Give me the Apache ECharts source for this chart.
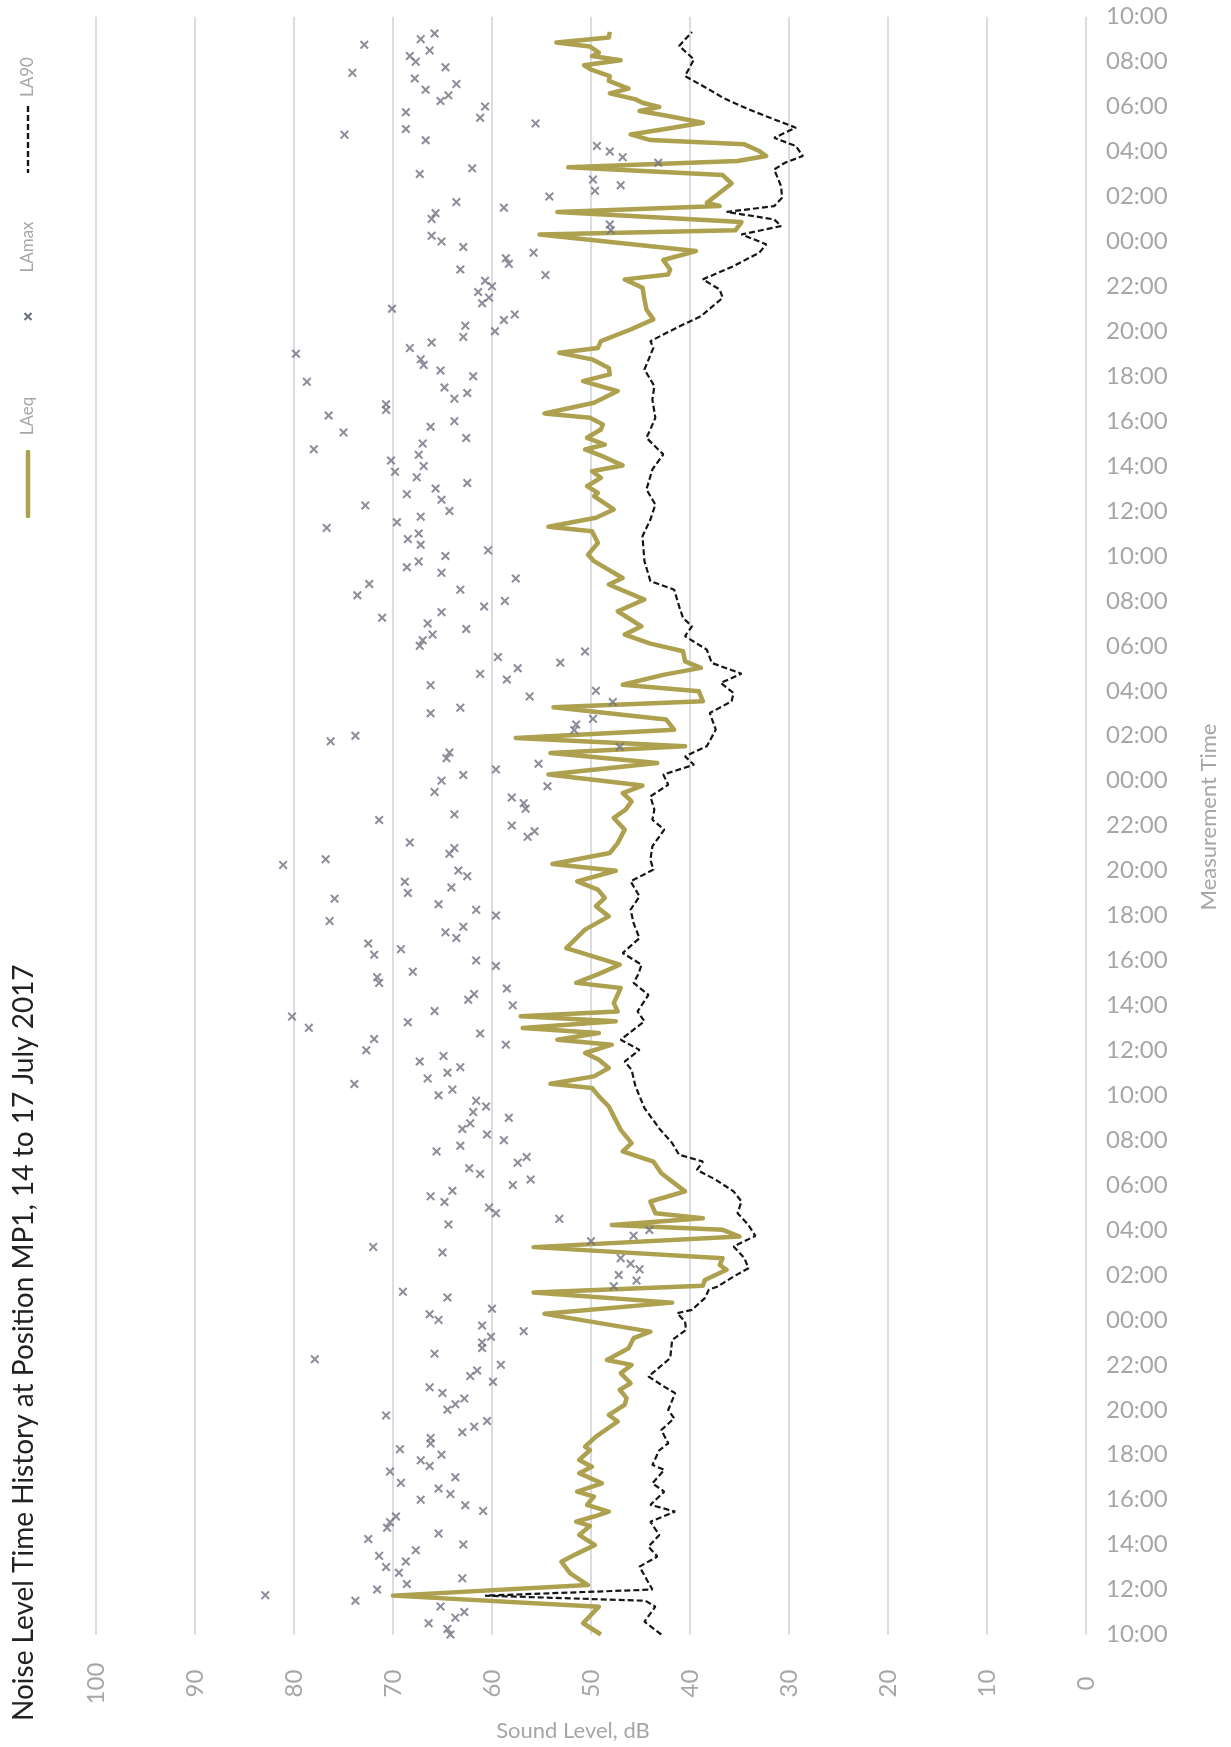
<!DOCTYPE html>
<html>
<head>
<meta charset="utf-8">
<title>Noise Level Time History at Position MP1</title>
<script src="https://cdn.jsdelivr.net/npm/echarts@6/dist/echarts.min.js"></script>
<style>
  html, body { margin: 0; padding: 0; background: #ffffff; }
  #chart { width: 1231px; height: 1747px; }
</style>
</head>
<body>
<div id="chart"></div>
<script>
// Hours elapsed since 14 July 10:00; the time axis runs 0..72 h.
const timeLabels = [
  '10:00','12:00','14:00','16:00','18:00','20:00','22:00','00:00','02:00','04:00','06:00','08:00',
  '10:00','12:00','14:00','16:00','18:00','20:00','22:00','00:00','02:00','04:00','06:00','08:00',
  '10:00','12:00','14:00','16:00','18:00','20:00','22:00','00:00','02:00','04:00','06:00','08:00',
  '10:00'
];

// LAmax, one value per 15-minute interval (null = no reading)
const lamax = [
  64.2,64.5,66.4,63.7,62.8,65.2,73.8,82.9,71.6,68.6,63.0,69.4,70.7,68.7,71.4,67.7,
  62.9,72.5,65.4,70.6,70.3,69.7,60.9,62.7,67.2,64.2,65.4,69.2,63.7,70.3,66.3,67.2,
  65.1,69.3,66.2,66.2,63.0,61.8,60.5,70.7,64.5,63.7,62.8,65.0,66.3,59.9,62.2,61.5,
  59.1,77.9,65.8,61.0,61.0,60.1,56.8,61.0,65.4,66.3,60.0,null,64.5,69.0,47.7,45.4,
  47.2,45.1,46.0,47.0,65.0,72.0,50.0,45.7,44.1,64.4,53.2,59.6,60.3,64.8,66.2,64.0,
  57.9,56.1,61.2,62.3,57.4,56.5,65.6,63.2,58.8,60.5,63.0,62.2,58.3,61.9,60.6,61.6,
  65.4,64.0,73.9,66.5,64.5,63.2,67.3,64.9,72.7,58.6,71.9,61.2,78.5,68.5,80.2,65.8,
  57.9,62.4,61.8,58.5,71.4,71.6,68.0,59.6,61.6,71.9,69.2,72.5,63.6,64.7,62.9,76.4,
  59.6,61.6,65.4,75.9,68.5,64.1,68.8,62.5,63.4,81.1,76.8,64.3,63.8,68.3,56.4,55.7,
  58.0,71.4,63.8,56.6,56.8,58.0,65.8,54.4,65.1,62.9,59.6,55.3,64.6,64.3,47.1,76.3,
  73.8,51.7,51.5,49.8,66.2,63.2,47.8,56.2,49.5,66.2,58.5,61.2,57.4,53.1,59.4,50.6,
  67.3,67.0,66.0,62.6,66.5,71.1,65.1,60.8,58.7,73.6,63.2,72.4,57.6,65.1,68.6,67.4,
  64.7,60.4,67.2,68.5,67.4,76.7,69.6,67.2,64.3,72.8,65.1,68.6,65.7,62.5,67.6,69.8,
  66.9,70.2,67.4,78.0,67.0,62.6,75.0,66.2,63.8,76.5,70.7,70.7,63.8,62.5,64.8,78.7,
  61.9,65.2,66.9,67.2,79.8,68.3,66.1,62.9,59.7,62.7,58.8,57.7,70.1,61.0,60.3,61.4,
  60.0,60.7,54.6,63.2,58.3,58.6,55.8,62.9,65.1,66.1,48.0,48.1,66.1,65.7,58.8,63.6,
  54.2,49.6,47.0,49.8,67.3,62.0,43.2,46.8,48.1,49.4,66.7,74.9,68.7,55.6,61.2,68.7,
  60.7,65.2,64.4,66.7,63.6,67.8,74.1,64.7,67.7,68.3,66.3,72.9,67.2,65.8
];

// LAeq trace: [hours, dB]
const laeq = [
  [0,49.0],[0.5,50.8],[1.24,49.2],[1.73,70.0],[2.2,50.3],[2.72,52.1],[3.24,53.0],[3.6,51.4],
  [3.98,49.6],[4.43,51.2],[4.83,50.1],[5.02,51.5],[5.25,49.7],[5.47,48.2],[5.77,50.4],[6.14,49.7],
  [6.36,51.4],[6.73,48.9],[7.18,51.2],[7.47,49.9],[7.77,51.2],[8.2,50.1],[8.36,50.6],[8.81,49.5],
  [9.48,47.3],[9.77,48.2],[10.22,46.6],[10.52,46.4],[10.89,47.1],[11.18,46.0],[11.63,47.0],[12.0,45.9],
  [12.22,48.4],[12.74,46.2],[13.19,45.7],[13.48,44.0],[14.27,54.7],[14.77,41.8],[15.22,55.8],[15.52,38.7],
  [15.78,38.5],[16.23,36.3],[16.45,37.0],[16.75,36.7],[17.24,55.8],[17.71,35.0],[18.01,36.7],[18.23,47.9],
  [18.53,38.7],[18.75,43.5],[19.27,44.0],[19.72,40.5],[20.53,42.9],[21.05,43.7],[21.5,46.8],[21.87,45.9],
  [22.46,47.0],[23.06,47.7],[23.5,48.2],[23.95,49.2],[24.32,49.9],[24.51,54.1],[24.84,49.7],[25.21,48.2],
  [25.58,49.2],[25.88,50.6],[26.25,47.9],[26.47,53.4],[26.77,49.2],[26.99,56.9],[27.29,47.5],[27.51,57.1],
  [27.73,47.3],[28.1,47.7],[28.77,47.0],[29.0,51.5],[29.4,49.2],[29.81,47.1],[30.55,52.5],[31.37,50.6],
  [31.96,48.2],[32.41,49.5],[32.78,48.6],[33.15,49.3],[33.52,51.4],[33.99,47.5],[34.29,53.9],[34.78,48.1],
  [35.22,47.3],[35.82,46.6],[36.34,47.7],[36.71,46.5],[37.08,45.9],[37.45,46.8],[37.78,44.8],[38.27,54.3],
  [38.79,43.3],[39.23,54.1],[39.53,40.5],[39.9,57.6],[40.27,41.6],[40.72,42.4],[41.27,53.8],[41.53,38.7],
  [41.98,39.1],[42.27,46.8],[42.72,42.6],[43.02,38.9],[43.31,40.5],[43.76,40.7],[44.1,44.0],[44.5,46.6],
  [44.87,44.9],[45.54,47.3],[46.06,44.6],[46.73,48.2],[47.02,46.8],[47.77,49.7],[48.06,50.3],[48.58,49.3],
  [49.1,49.9],[49.3,54.3],[49.7,49.5],[50.07,47.7],[50.66,49.7],[50.81,49.3],[51.11,50.4],[51.48,49.0],
  [51.77,49.9],[52.03,46.8],[52.47,49.0],[52.74,50.6],[52.96,48.6],[53.26,50.4],[53.63,49.0],[53.85,48.8],
  [54.15,50.1],[54.34,54.7],[54.82,49.7],[55.34,47.3],[55.78,50.8],[56.08,48.1],[56.37,48.2],[56.75,49.9],
  [57.04,53.2],[57.26,49.3],[57.56,49.0],[58.08,46.0],[58.53,43.7],[58.97,44.4],[59.42,44.6],[59.94,44.8],
  [60.31,46.6],[60.53,42.2],[60.75,42.0],[61.17,42.7],[61.57,39.4],[62.31,55.2],[62.5,35.4],[62.86,34.8],
  [63.31,53.4],[63.57,37.0],[63.72,38.3],[64.58,35.8],[64.95,36.7],[65.3,52.3],[65.58,35.2],[65.8,32.3],
  [66.02,33.0],[66.32,34.5],[66.51,44.0],[66.76,46.0],[67.02,42.2],[67.28,38.7],[67.58,42.2],[67.8,45.1],
  [67.98,43.1],[68.17,44.8],[68.32,45.5],[68.59,48.1],[68.8,46.2],[69.14,48.2],[69.36,48.1],[69.63,49.9],
  [69.84,50.7],[70.06,47.0],[70.25,49.9],[70.4,49.2],[70.67,50.1],[70.85,53.5],[71.07,48.2],[71.32,48.1]
];

// LA90 trace: [hours, dB]
const la90 = [
  [0,42.9],[0.57,44.6],[1.24,43.5],[1.5,44.5],[1.73,60.7],[2.0,43.8],[3.02,45.1],[3.47,43.3],
  [3.91,44.2],[4.43,43.1],[5.02,44.0],[5.47,41.5],[5.77,44.0],[6.36,42.6],[6.73,43.8],[7.33,42.6],
  [7.55,43.8],[8.2,43.1],[8.51,42.2],[9.1,42.9],[9.62,41.6],[9.99,42.2],[10.74,41.5],[11.03,42.6],
  [11.48,44.2],[12.3,42.0],[13.11,41.8],[13.56,40.4],[13.93,40.5],[14.3,41.3],[14.45,39.8],[14.97,38.5],
  [15.34,38.1],[15.49,37.2],[15.93,35.6],[16.3,34.1],[16.75,34.5],[17.27,35.6],[17.74,33.4],[18.23,34.1],
  [18.75,35.2],[19.27,34.8],[19.72,35.6],[20.24,37.4],[20.68,39.3],[21.05,38.7],[21.35,41.1],[21.87,41.8],
  [22.46,43.0],[23.43,44.6],[24.39,45.5],[25.13,45.9],[25.5,46.6],[26.02,45.1],[26.47,47.0],[27.29,44.6],
  [27.73,45.3],[28.47,44.2],[29.0,45.7],[29.4,45.2],[29.81,44.9],[30.33,46.8],[30.99,45.1],[31.66,45.7],
  [32.26,46.0],[32.85,45.1],[33.52,46.0],[34.04,43.7],[34.48,44.0],[35.08,43.8],[35.82,42.6],[36.26,43.8],
  [36.71,43.6],[37.3,44.0],[37.82,42.2],[38.27,42.7],[38.71,39.6],[39.08,40.5],[39.53,38.3],[40.27,37.4],
  [41.01,38.0],[41.53,35.8],[41.9,35.6],[42.35,36.9],[42.76,34.8],[43.24,37.8],[43.83,38.3],[44.43,40.5],
  [44.87,39.8],[45.24,40.7],[45.76,41.1],[46.5,41.6],[46.88,44.0],[47.77,44.6],[48.88,44.8],[49.62,44.0],
  [50.29,43.5],[50.96,44.4],[51.85,43.8],[52.52,42.7],[53.26,44.4],[53.63,44.0],[54.15,43.5],[54.96,43.8],
  [55.56,43.6],[56.3,44.6],[57.26,43.7],[57.56,44.0],[57.9,42.5],[58.23,41.0],[58.67,38.9],[59.49,36.7],
  [59.86,37.0],[60.31,38.7],[60.9,35.6],[61.5,33.0],[61.87,32.3],[62.31,34.8],[62.68,30.8],[62.98,31.5],
  [63.31,36.3],[63.57,31.5],[63.94,30.7],[64.46,30.8],[65.2,31.5],[65.5,30.4],[65.8,28.6],[66.24,29.3],
  [66.61,31.5],[67.06,29.3],[67.43,31.5],[67.88,34.1],[68.4,36.7],[68.69,37.8],[69.36,40.5],[70.1,39.6],
  [70.7,41.1],[71.32,39.8]
];

const FONT = 'Lato, "Open Sans", sans-serif';
const GOLD = '#ada04f';
const MARK = '#6f7282';
const GREY = '#a6a6a6';
const GRID = '#cfd0d7';
const CROSS = 'path://M0,1.6L1.6,0L5,3.4L8.4,0L10,1.6L6.6,5L10,8.4L8.4,10L5,6.6L1.6,10L0,8.4L3.4,5Z';

const chart = echarts.init(document.getElementById('chart'), null, { renderer: 'canvas' });

const legendText = (y, text) => ({
  type: 'text', x: 28, y: y, rotation: Math.PI / 2, silent: true,
  style: { text: text, fill: GREY, font: '17px ' + FONT, align: 'center', verticalAlign: 'middle' }
});
const crossStroke = (x1, y1, x2, y2) => ({
  type: 'line', silent: true, shape: { x1: x1, y1: y1, x2: x2, y2: y2 },
  style: { stroke: MARK, lineWidth: 2.2 }
});

chart.setOption({
  animation: false,
  backgroundColor: '#ffffff',
  textStyle: { fontFamily: FONT },
  grid: { left: 96, right: 145, top: 16.7, bottom: 112.5 },
  xAxis: {
    type: 'value', min: 0, max: 100, interval: 10, inverse: true, position: 'bottom',
    axisLine: { show: false }, axisTick: { show: false },
    splitLine: { show: true, lineStyle: { color: GRID, width: 1.5 } },
    axisLabel: {
      rotate: 90, align: 'center', verticalAlign: 'middle', margin: 49,
      color: GREY, fontSize: 24, fontFamily: FONT
    }
  },
  yAxis: {
    type: 'value', min: 0, max: 72, interval: 2, position: 'right',
    axisLine: { show: false }, axisTick: { show: false }, splitLine: { show: false },
    axisLabel: {
      formatter: v => timeLabels[Math.round(v / 2)],
      margin: 20, color: GREY, fontSize: 24, fontFamily: FONT
    }
  },
  series: [
    {
      name: 'LAeq', type: 'line', showSymbol: false, z: 2,
      lineStyle: { color: GOLD, width: 4.5, join: 'round' },
      data: laeq.map(([h, v]) => [v, h])
    },
    {
      name: 'LAmax', type: 'scatter', symbol: CROSS, symbolSize: 9, z: 3,
      itemStyle: { color: MARK },
      data: lamax.map((v, i) => (v == null ? null : [v, i * 0.25])).filter(d => d)
    },
    {
      name: 'LA90', type: 'line', showSymbol: false, z: 4,
      lineStyle: { color: '#161616', width: 2.2, type: [6, 3] },
      data: la90.map(([h, v]) => [v, h])
    }
  ],
  graphic: [
    {
      type: 'text', x: 24, y: 1721, rotation: Math.PI / 2, silent: true,
      style: {
        text: 'Noise Level Time History at Position MP1, 14 to 17 July 2017',
        fill: '#222222', font: '28px ' + FONT, align: 'left', verticalAlign: 'middle'
      }
    },
    {
      type: 'text', x: 573, y: 1731, silent: true,
      style: { text: 'Sound Level, dB', fill: GREY, font: '22px ' + FONT, align: 'center', verticalAlign: 'middle' }
    },
    {
      type: 'text', x: 1209, y: 817, rotation: Math.PI / 2, silent: true,
      style: { text: 'Measurement Time', fill: GREY, font: '22px ' + FONT, align: 'center', verticalAlign: 'middle' }
    },
    legendText(77, 'LA90'),
    {
      type: 'line', silent: true, shape: { x1: 28, y1: 106, x2: 28, y2: 173 },
      style: { stroke: '#161616', lineWidth: 2.4, lineDash: [6, 3] }
    },
    legendText(247, 'LAmax'),
    crossStroke(24.5, 313, 31.5, 320),
    crossStroke(31.5, 313, 24.5, 320),
    legendText(416, 'LAeq'),
    {
      type: 'line', silent: true, shape: { x1: 28, y1: 452, x2: 28, y2: 516 },
      style: { stroke: GOLD, lineWidth: 4.5, lineCap: 'round' }
    }
  ]
});
</script>
</body>
</html>
